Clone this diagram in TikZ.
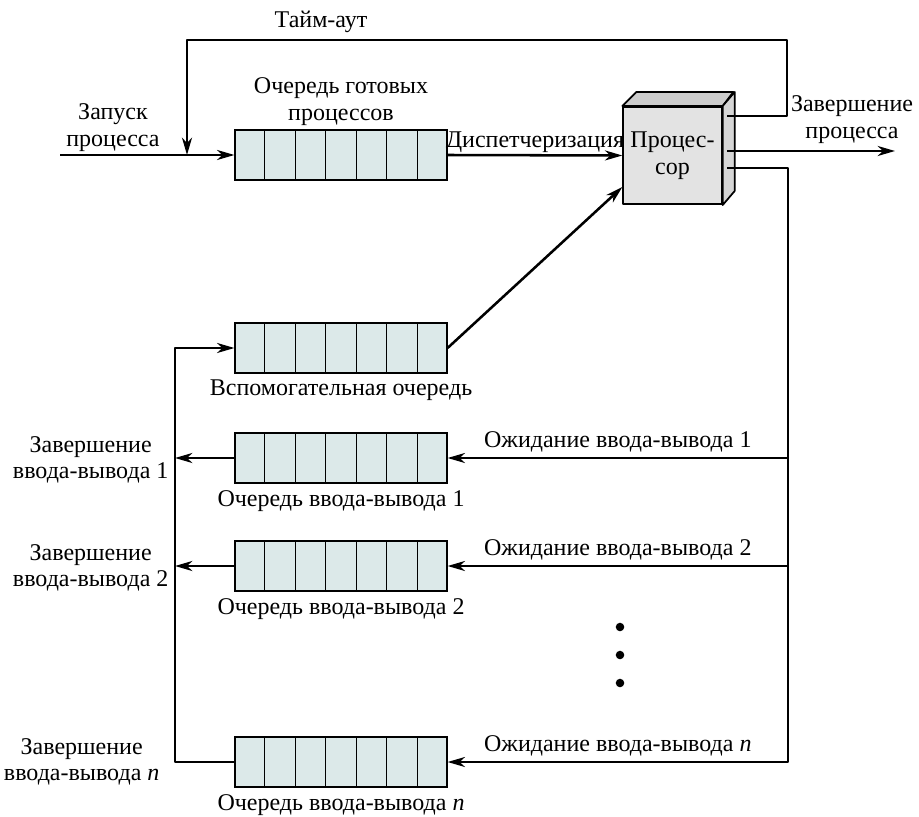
\documentclass[tikz,border=0pt]{standalone}
\usepackage{fontspec}
\setmainfont{Liberation Serif}
\usetikzlibrary{arrows.meta,calc,positioning}
\definecolor{qfill}{HTML}{DCE9E9}
\definecolor{pfront}{HTML}{E3E3E3}
\definecolor{ptop}{HTML}{CDCDCD}
\definecolor{pside}{HTML}{D5D5D5}
\begin{document}
\begin{tikzpicture}[x=0.75pt,y=-0.75pt,>={Stealth[length=13pt,width=7.5pt,inset=4pt]},line join=round,font=\fontsize{18}{20}\selectfont,
	flow/.style={line width=1.9pt},
	queue/.style={draw,line width=0.9pt,fill=qfill,minimum width=159pt,minimum height=37pt,inner sep=0pt},
	lbl/.style={align=center,inner sep=1pt}]
	\useasboundingbox (0,0) rectangle (919,816);
	% очереди
	\foreach \q/\y in {ready/155,aux/348,io1/458,io2/566,ion/762}{
		\node[queue] (\q) at (341,\y) {};
		\foreach \i in {1,...,6}
			\draw[line width=0.9pt] ($(\q.north west)!\i/7!(\q.north east)$)--($(\q.south west)!\i/7!(\q.south east)$);
		\draw[line width=1.7pt] (\q.north west)--(\q.north east) (\q.south west)--(\q.south east);
	}
	% процессор
	\node[draw,line width=1.3pt,fill=pfront,minimum width=74pt,minimum height=73pt,align=center,inner sep=0pt] (proc) at (672.5,155.5) {Процес-\\сор};
	\filldraw[line width=1.3pt,fill=ptop] (proc.north west)--++(14,-14)--++(97,0)--(proc.north east)--cycle;
	\filldraw[line width=1.3pt,fill=pside] (proc.north east)--++(12,-14)--++(0,99)--(proc.south east)--cycle;
	\coordinate (tout) at (727,116);
	\coordinate (done) at (727,151);
	\coordinate (wait) at (727,168);
	\coordinate (start) at (60,155);
	\coordinate (join) at (187,155);
	\coordinate (exit) at (895,151);
	\coordinate (rbus) at (788,0);
	\coordinate (lbus) at (175,0);
	% связи
	\draw[flow,->] (start)--(ready.west);
	\draw[flow,->] (tout)-|(787,40)-|(join);
	\draw[flow,->] (ready.east)--node[above,inner sep=1pt] (disp) {Диспетчеризация}(proc.west);
	\draw[flow,->] (aux.east)--($(proc.south west)+(0,-18)$);
	\draw[flow,->] (done)--(exit);
	\draw[flow,->] (wait)-|(rbus|-ion.east)--(ion.east);
	\draw[flow,->] (rbus|-io1.east)--(io1.east);
	\draw[flow,->] (rbus|-io2.east)--(io2.east);
	\draw[flow,->] (io1.west)--(lbus|-io1.west);
	\draw[flow,->] (io2.west)--(lbus|-io2.west);
	\draw[flow,->] (ion.west)-|(lbus|-aux.west)--(aux.west);
	\foreach \y in {627,655,683}
		\fill (620,\y) circle (3.2pt);
	% подписи
	\node[above] (tlbl) at (321,37) {Тайм-аут};
	\node[lbl,anchor=south] (slbl) at (113,153) {Запуск\\процесса};
	\node[lbl,above=2pt of ready] (rlbl) {Очередь готовых\\процессов};
	\node[lbl,anchor=south] (xlbl) at (852,145) {Завершение\\процесса};
	\node[lbl,below=4pt of aux] (albl) {Вспомогательная очередь};
	\node[lbl,below=4pt of io1] (q1) {Очередь ввода-вывода 1};
	\node[lbl,below=4pt of io2] (q2) {Очередь ввода-вывода 2};
	\node[lbl,below=4pt of ion] (qn) {Очередь ввода-вывода \textit{n}};
	\node[lbl,anchor=east] (c1) at ($(lbus|-io1.west)+(-5,2)$) {Завершение\\ввода-вывода 1};
	\node[lbl,anchor=east] (c2) at ($(lbus|-io2.west)+(-5,2)$) {Завершение\\ввода-вывода 2};
	\node[lbl,anchor=east] (cn) at ($(lbus|-ion.west)+(-14,0)$) {Завершение\\ввода-вывода \textit{n}};
	\node[lbl,above=3pt] (w1) at ($(io1.east)!0.5!(rbus|-io1.east)$) {Ожидание ввода-вывода 1};
	\node[lbl,above=3pt] (w2) at ($(io2.east)!0.5!(rbus|-io2.east)$) {Ожидание ввода-вывода 2};
	\node[lbl,above=3pt] (wn) at ($(ion.east)!0.5!(rbus|-ion.east)$) {Ожидание ввода-вывода \textit{n}};
\end{tikzpicture}
\end{document}
